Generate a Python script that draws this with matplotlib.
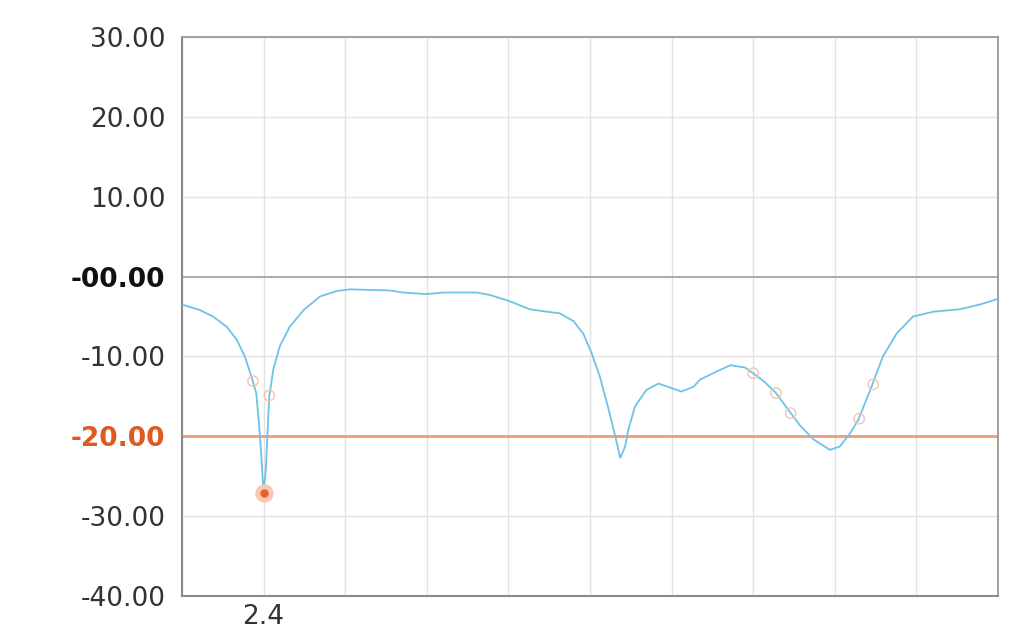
import matplotlib
matplotlib.use("Agg")
import matplotlib.pyplot as plt

# frequency (GHz) and return loss (dB)
freq = [2.300, 2.322, 2.338, 2.355, 2.367, 2.377, 2.385, 2.391, 2.394, 2.397,
        2.400, 2.403, 2.405, 2.407, 2.412, 2.420, 2.432, 2.449, 2.469, 2.490,
        2.506, 2.555, 2.571, 2.600, 2.620, 2.661, 2.677, 2.702, 2.726, 2.747,
        2.763, 2.780, 2.792, 2.802, 2.812, 2.822, 2.831, 2.837, 2.843, 2.847,
        2.855, 2.869, 2.884, 2.898, 2.912, 2.927, 2.935, 2.953, 2.972, 2.990,
        3.000, 3.014, 3.028, 3.046, 3.057, 3.074, 3.094, 3.106, 3.119, 3.129,
        3.145, 3.159, 3.176, 3.196, 3.221, 3.253, 3.278, 3.300]
s11 = [-3.5, -4.2, -5.0, -6.3, -7.9, -10.0, -12.5, -14.6, -17.9, -22.1,
       -27.1, -23.8, -19.2, -15.0, -11.6, -8.7, -6.3, -4.2, -2.5, -1.8,
       -1.6, -1.75, -2.0, -2.2, -2.0, -2.0, -2.3, -3.1, -4.1, -4.4,
       -4.6, -5.6, -7.2, -9.6, -12.5, -16.3, -20.0, -22.7, -21.3, -19.2,
       -16.3, -14.2, -13.4, -13.9, -14.4, -13.8, -12.9, -12.0, -11.1, -11.4,
       -12.1, -13.2, -14.6, -17.1, -18.6, -20.4, -21.7, -21.3, -19.6, -17.9,
       -13.8, -10.0, -7.1, -5.0, -4.4, -4.1, -3.5, -2.8]

marker_f = [2.387, 2.407, 3.000, 3.028, 3.046, 3.130, 3.147]
marker_db = [-13.1, -14.9, -12.1, -14.6, -17.1, -17.8, -13.5]
min_f = [2.400]
min_db = [-27.1]

limit_db = -20
yticks = [30, 20, 10, 0, -10, -20, -30, -40]
ylabels = ["30.00", "20.00", "10.00", "-00.00", "-10.00", "-20.00", "-30.00", "-40.00"]
xticks = [2.3 + 0.1 * i for i in range(11)]

fig = plt.figure(figsize=(10.24, 6.42), dpi=100)
ax = fig.add_axes([0.1777, 0.0717, 0.7969, 0.8707])

ax.plot(freq, s11, color="#6ec3e6", lw=1.3, zorder=3)
ax.axhline(limit_db, color="#f39a78", lw=2, zorder=2)
ax.axhline(0, color="#a0a0a0", lw=1.2, zorder=1)

ax.scatter(marker_f, marker_db, s=55, facecolors="none", edgecolors="#f3c3b0",
           linewidths=1.0, zorder=4)
ax.scatter(min_f, min_db, s=150, color="#f8c9b0", zorder=4)
ax.scatter(min_f, min_db, s=25, color="#e8602c", zorder=5)

ax.set_xlim(2.3, 3.3)
ax.set_ylim(-40, 30)
ax.set_xticks(xticks)
ax.set_xticklabels(["" if abs(t - 2.4) > 1e-6 else "2.4" for t in xticks])
ax.set_yticks(yticks)
ax.set_yticklabels(ylabels)
ax.grid(True, color="#e2e2e2", lw=1)
ax.set_axisbelow(True)
ax.tick_params(length=0, labelsize=19, colors="#333333", pad=12)
ax.tick_params(axis="x", pad=6)

for lbl in ax.get_yticklabels():
    if lbl.get_text() == "-20.00":
        lbl.set_color("#e05a20")
        lbl.set_fontweight("bold")
    elif lbl.get_text() == "-00.00":
        lbl.set_color("#111111")
        lbl.set_fontweight("bold")

for side in ["left", "bottom"]:
    ax.spines[side].set_color("#8a8a8a")
    ax.spines[side].set_linewidth(1.5)
for side in ["top", "right"]:
    ax.spines[side].set_color("#9a9a9a")
    ax.spines[side].set_linewidth(1.3)

fig.savefig("out.png", dpi=100)
